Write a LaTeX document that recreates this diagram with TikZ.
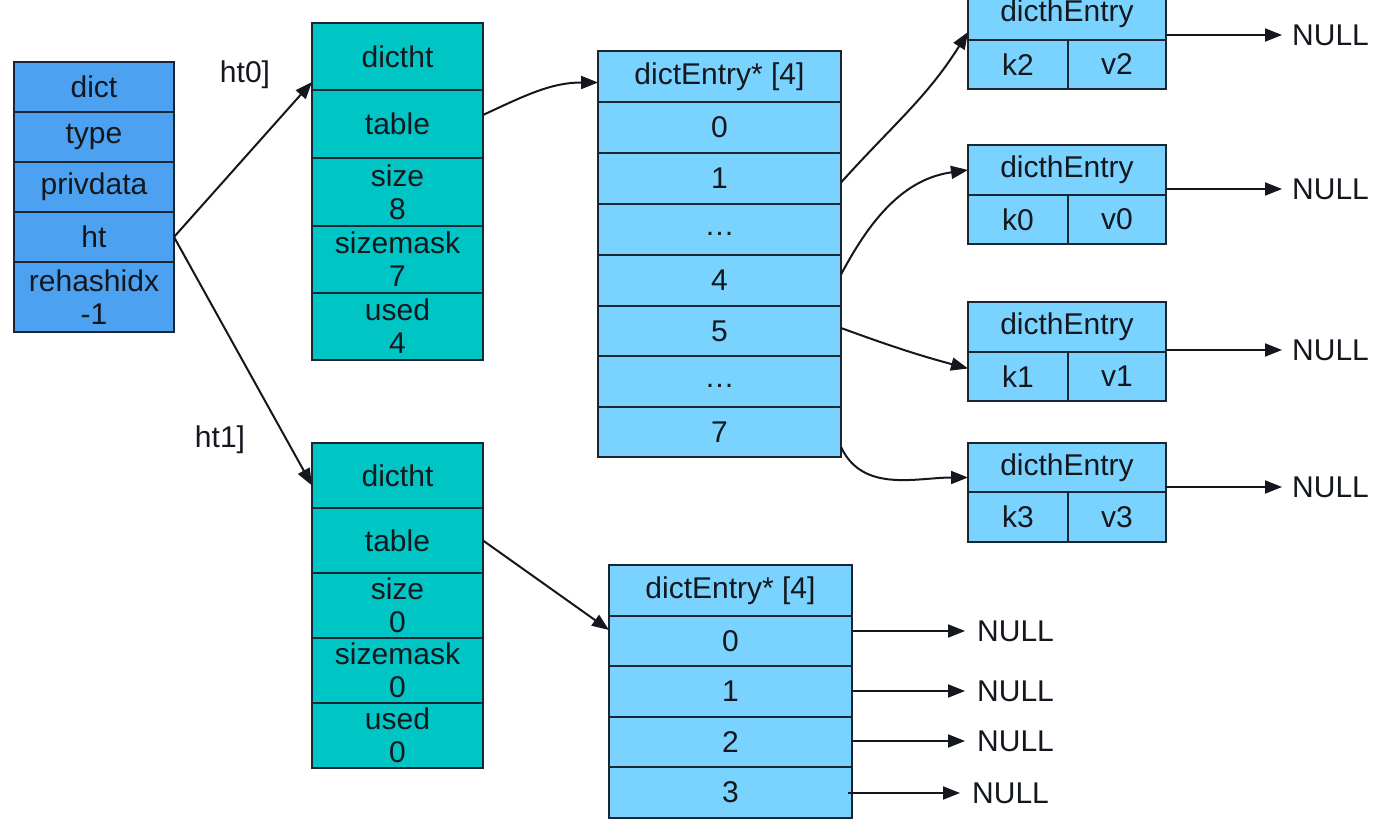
\documentclass[tikz,border=0pt]{standalone}
\usepackage{fontspec}
\setmainfont{Liberation Sans}
\usetikzlibrary{arrows.meta,calc}
\definecolor{dictblue}{RGB}{76,162,240}
\definecolor{htteal}{RGB}{0,197,197}
\definecolor{entblue}{RGB}{122,211,255}
\definecolor{border}{RGB}{28,38,50}
\definecolor{txt}{RGB}{20,24,30}
\begin{document}
\begin{tikzpicture}[x=1pt,y=1pt,
  cell/.style={draw=border, line width=2.2pt, text=txt, inner sep=0pt, outer sep=0pt,
    align=center, font=\fontsize{30}{33}\selectfont, anchor=center},
  dcell/.style={cell, fill=dictblue, minimum width=160pt},
  hcell/.style={cell, fill=htteal, minimum width=171pt},
  tcell/.style={cell, fill=entblue, minimum width=243pt},
  ecell/.style={cell, fill=entblue},
  lbl/.style={text=txt, font=\fontsize{30}{33}\selectfont, inner sep=0pt},
  arr/.style={draw=txt, line width=2pt, -{Triangle[length=17pt,width=13pt]}}]
\useasboundingbox (0,0) rectangle (1390,-832);
\clip (0,0) rectangle (1390,-832);
\fill[white] (0,0) rectangle (1390,-832);

% dict
\node[dcell, minimum height=50pt] (d0) at (94,-87) {dict};
\node[dcell, minimum height=50pt] (d1) at (94,-137) {type};
\node[dcell, minimum height=50pt] (d2) at (94,-187) {privdata};
\node[dcell, minimum height=50pt] (d3) at (94,-237) {ht};
\node[dcell, minimum height=70pt] (d4) at (94,-297) {rehashidx\\-1};

% dictht 0
\node[hcell, minimum height=67pt] (a0) at (397.5,-56.5) {dictht};
\node[hcell, minimum height=68pt] (a1) at (397.5,-124) {table};
\node[hcell, minimum height=68pt] (a2) at (397.5,-192) {size\\8};
\node[hcell, minimum height=67pt] (a3) at (397.5,-259.5) {sizemask\\7};
\node[hcell, minimum height=67pt] (a4) at (397.5,-326.5) {used\\4};

% dictht 1
\node[hcell, minimum height=65pt] (b0) at (397.5,-475.5) {dictht};
\node[hcell, minimum height=65pt] (b1) at (397.5,-540.5) {table};
\node[hcell, minimum height=65pt] (b2) at (397.5,-605.5) {size\\0};
\node[hcell, minimum height=65pt] (b3) at (397.5,-670.5) {sizemask\\0};
\node[hcell, minimum height=65pt] (b4) at (397.5,-735.5) {used\\0};

% table 0
\node[tcell, minimum height=51pt] (t0h) at (719.5,-76.5) {dictEntry* [4]};
\node[tcell, minimum height=51pt] (t00) at (719.5,-127.5) {0};
\node[tcell, minimum height=51pt] (t01) at (719.5,-178.5) {1};
\node[tcell, minimum height=51pt] (t0a) at (719.5,-229.5) {\raisebox{-6pt}[0pt][0pt]{\ldots}};
\node[tcell, minimum height=51pt] (t04) at (719.5,-280.5) {4};
\node[tcell, minimum height=50pt] (t05) at (719.5,-331) {5};
\node[tcell, minimum height=51pt] (t0b) at (719.5,-381.5) {\raisebox{-6pt}[0pt][0pt]{\ldots}};
\node[tcell, minimum height=50pt] (t07) at (719.5,-432) {7};

% table 1
\node[tcell, minimum height=51pt] (t1h) at (730.5,-590.5) {dictEntry* [4]};
\node[tcell, minimum height=50pt] (t10) at (730.5,-641) {0};
\node[tcell, minimum height=51pt] (t11) at (730.5,-691.5) {1};
\node[tcell, minimum height=50pt] (t12) at (730.5,-742) {2};
\node[tcell, minimum height=51pt] (t13) at (730.5,-792.5) {3};

% entries
\node[ecell, minimum width=198pt, minimum height=52pt] (e2h) at (1067,-14) {dicthEntry};
\node[ecell, minimum width=100pt, minimum height=49pt] (e2k) at (1018,-64.5) {k2};
\node[ecell, minimum width=98pt, minimum height=49pt] (e2v) at (1117,-64.5) {v2};

\node[ecell, minimum width=198pt, minimum height=50pt] (e0h) at (1067,-170) {dicthEntry};
\node[ecell, minimum width=100pt, minimum height=49pt] (e0k) at (1018,-219.5) {k0};
\node[ecell, minimum width=98pt, minimum height=49pt] (e0v) at (1117,-219.5) {v0};

\node[ecell, minimum width=198pt, minimum height=50pt] (e1h) at (1067,-327) {dicthEntry};
\node[ecell, minimum width=100pt, minimum height=49pt] (e1k) at (1018,-376.5) {k1};
\node[ecell, minimum width=98pt, minimum height=49pt] (e1v) at (1117,-376.5) {v1};

\node[ecell, minimum width=198pt, minimum height=49pt] (e3h) at (1067,-467.5) {dicthEntry};
\node[ecell, minimum width=100pt, minimum height=50pt] (e3k) at (1018,-517) {k3};
\node[ecell, minimum width=98pt, minimum height=50pt] (e3v) at (1117,-517) {v3};

% labels
\node[lbl] (l0) at (245,-75) {ht0]};
\node[lbl] (l1) at (220,-440) {ht1]};

% NULL labels
\node[lbl, anchor=west] (n2) at (1292,-35) {NULL};
\node[lbl, anchor=west] (n0) at (1292,-189) {NULL};
\node[lbl, anchor=west] (n1) at (1292,-350) {NULL};
\node[lbl, anchor=west] (n3) at (1292,-487) {NULL};
\node[lbl, anchor=west] (m0) at (977,-631) {NULL};
\node[lbl, anchor=west] (m1) at (977,-691) {NULL};
\node[lbl, anchor=west] (m2) at (977,-741) {NULL};
\node[lbl, anchor=west] (m3) at (972,-793) {NULL};

% connectors
\draw[arr] (d3.east) -- ($(a0.south west)+(0,8)$);
\draw[arr] (d3.east) -- ($(b0.west)+(0,-10)$);
\draw[arr] ($(a1.east)+(0,9)$) to[out=25,in=180] ($(t0h.west)+(0,-6)$);
\draw[arr] (b1.east) -- ($(t10.west)+(0,11)$);

\draw[arr] ($(t01.east)+(0,-4)$) to[out=48,in=238] ($(e2h.south west)+(0,8)$);
\draw[arr] ($(t04.east)+(0,6)$) to[out=62,in=188] (e0h.west);
\draw[arr] ($(t05.east)+(0,3)$) to[out=-20,in=165] ($(e1k.west)+(0,8)$);
\draw[arr] ($(t07.east)+(0,-15)$) to[out=-65,in=180] ($(e3h.west)+(0,-10)$);

\draw[arr] (e2v.east |- n2.west) -- ($(n2.west)+(-10,0)$);
\draw[arr] (e0v.east |- n0.west) -- ($(n0.west)+(-10,0)$);
\draw[arr] (e1v.east |- n1.west) -- ($(n1.west)+(-10,0)$);
\draw[arr] (e3v.east |- n3.west) -- ($(n3.west)+(-10,0)$);

\draw[arr] (t10.east |- m0.west) -- ($(m0.west)+(-12,0)$);
\draw[arr] (t11.east |- m1.west) -- ($(m1.west)+(-12,0)$);
\draw[arr] (t12.east |- m2.west) -- ($(m2.west)+(-12,0)$);
\draw[arr] ($(t13.east |- m3.west)+(-4,0)$) -- ($(m3.west)+(-12,0)$);
\end{tikzpicture}
\end{document}
